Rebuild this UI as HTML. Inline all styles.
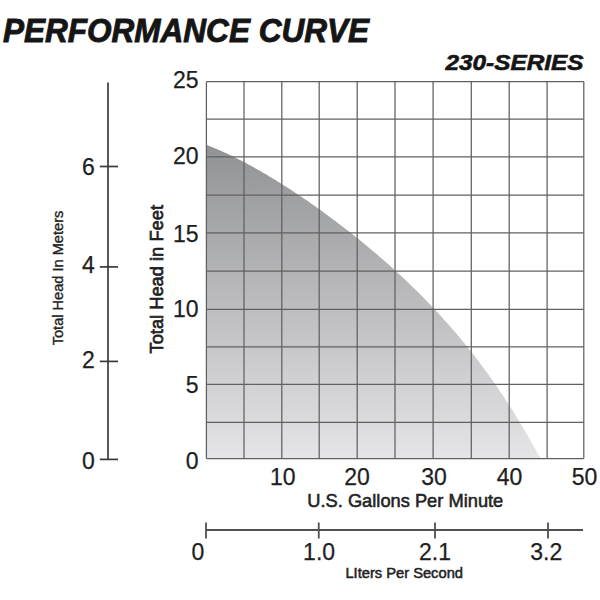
<!DOCTYPE html>
<html><head><meta charset="utf-8"><style>
html,body{margin:0;padding:0;background:#fff;width:600px;height:600px;overflow:hidden}
svg{display:block;font-family:"Liberation Sans",sans-serif}
</style></head><body>
<svg width="600" height="600" viewBox="0 0 600 600">
<defs><linearGradient id="g" x1="0" y1="145" x2="0" y2="459" gradientUnits="userSpaceOnUse">
<stop offset="0" stop-color="#919294"/><stop offset="1" stop-color="#e5e5e7"/></linearGradient></defs>
<rect width="600" height="600" fill="#fff"/>
<polygon points="206.4,144.8 209.4,146.0 212.4,147.2 215.4,148.5 218.4,149.8 221.4,151.1 224.4,152.4 227.4,153.8 230.4,155.3 233.4,156.7 236.4,158.2 239.4,159.7 242.4,161.3 245.4,162.8 248.4,164.5 251.4,166.1 254.4,167.7 257.4,169.4 260.4,171.1 263.4,172.9 266.4,174.6 269.4,176.4 272.4,178.2 275.4,180.1 278.4,181.9 281.4,183.8 284.4,185.7 287.4,187.6 290.4,189.6 293.4,191.5 296.4,193.5 299.4,195.5 302.4,197.5 305.4,199.6 308.4,201.6 311.4,203.7 314.4,205.8 317.4,208.0 320.4,210.1 323.4,212.3 326.4,214.4 329.4,216.7 332.4,218.9 335.4,221.1 338.4,223.4 341.4,225.7 344.4,228.0 347.4,230.3 350.4,232.6 353.4,235.0 356.4,237.4 359.4,239.8 362.4,242.3 365.4,244.7 368.4,247.2 371.4,249.7 374.4,252.2 377.4,254.8 380.4,257.4 383.4,260.0 386.4,262.6 389.4,265.3 392.4,268.0 395.4,270.7 398.4,273.4 401.4,276.2 404.4,279.0 407.4,281.9 410.4,284.8 413.4,287.7 416.4,290.6 419.4,293.6 422.4,296.6 425.4,299.7 428.4,302.8 431.4,305.9 434.4,309.1 437.4,312.3 440.4,315.6 443.4,318.9 446.4,322.2 449.4,325.6 452.4,329.0 455.4,332.5 458.4,336.1 461.4,339.7 464.4,343.3 467.4,347.0 470.4,350.8 473.4,354.6 476.4,358.5 479.4,362.4 482.4,366.4 485.4,370.5 488.4,374.6 491.4,378.8 494.4,383.1 497.4,387.4 500.4,391.9 503.4,396.3 506.4,400.9 509.4,405.5 512.4,410.3 515.4,415.1 518.4,419.9 521.4,424.9 524.4,430.0 527.4,435.1 530.4,440.4 533.4,445.7 536.4,451.1 539.4,456.6 540.5,458.6 206.4,458.6" fill="url(#g)"/>
<g stroke="#606060" stroke-width="1.25"><line x1="206.40" y1="81.70" x2="206.40" y2="458.60"/><line x1="244.00" y1="81.70" x2="244.00" y2="458.60"/><line x1="281.80" y1="81.70" x2="281.80" y2="458.60"/><line x1="319.20" y1="81.70" x2="319.20" y2="458.60"/><line x1="357.20" y1="81.70" x2="357.20" y2="458.60"/><line x1="395.00" y1="81.70" x2="395.00" y2="458.60"/><line x1="433.10" y1="81.70" x2="433.10" y2="458.60"/><line x1="471.30" y1="81.70" x2="471.30" y2="458.60"/><line x1="509.20" y1="81.70" x2="509.20" y2="458.60"/><line x1="547.10" y1="81.70" x2="547.10" y2="458.60"/><line x1="583.80" y1="81.70" x2="583.80" y2="458.60"/><line x1="206.40" y1="81.70" x2="583.80" y2="81.70"/><line x1="206.40" y1="119.10" x2="583.80" y2="119.10"/><line x1="206.40" y1="156.90" x2="583.80" y2="156.90"/><line x1="206.40" y1="195.00" x2="583.80" y2="195.00"/><line x1="206.40" y1="232.80" x2="583.80" y2="232.80"/><line x1="206.40" y1="271.00" x2="583.80" y2="271.00"/><line x1="206.40" y1="309.40" x2="583.80" y2="309.40"/><line x1="206.40" y1="346.90" x2="583.80" y2="346.90"/><line x1="206.40" y1="384.40" x2="583.80" y2="384.40"/><line x1="206.40" y1="422.30" x2="583.80" y2="422.30"/><line x1="206.40" y1="458.60" x2="583.80" y2="458.60"/></g>
<text x="3" y="42.3" font-size="33" font-weight="bold" font-style="italic" fill="#151515" stroke="#151515" stroke-width="0.9" textLength="366" lengthAdjust="spacingAndGlyphs">PERFORMANCE CURVE</text>
<text x="445.5" y="69.7" font-size="21.5" font-weight="bold" font-style="italic" fill="#151515" stroke="#151515" stroke-width="0.6" textLength="138" lengthAdjust="spacingAndGlyphs">230-SERIES</text>
<g font-size="23" fill="#1e1e1e" stroke="#1e1e1e" stroke-width="0.25"><text x="198.6" y="87.7" text-anchor="end">25</text><text x="198.6" y="163.9" text-anchor="end">20</text><text x="198.6" y="241.5" text-anchor="end">15</text><text x="198.6" y="316.9" text-anchor="end">10</text><text x="198.6" y="392.6" text-anchor="end">5</text><text x="198.6" y="469.2" text-anchor="end">0</text><text x="282.7" y="484.7" text-anchor="middle">10</text><text x="357" y="484.7" text-anchor="middle">20</text><text x="434" y="484.7" text-anchor="middle">30</text><text x="509.5" y="484.7" text-anchor="middle">40</text><text x="584.5" y="484.7" text-anchor="middle">50</text><text x="94.8" y="174.6" text-anchor="end">6</text><text x="94.8" y="272.5" text-anchor="end">4</text><text x="94.8" y="367.5" text-anchor="end">2</text><text x="94.8" y="468.7" text-anchor="end">0</text><text x="198" y="560.2" text-anchor="middle">0</text><text x="319.1" y="560.2" text-anchor="middle">1.0</text><text x="435" y="560.2" text-anchor="middle">2.1</text><text x="546.3" y="560.2" text-anchor="middle">3.2</text></g>
<g stroke="#3a3a3a" stroke-width="1.7"><line x1="108" y1="82.4" x2="108" y2="459.4"/><line x1="99.8" y1="166.5" x2="118" y2="166.5"/><line x1="99.8" y1="266.9" x2="118" y2="266.9"/><line x1="99.8" y1="361.4" x2="118" y2="361.4"/><line x1="99.8" y1="459.4" x2="118" y2="459.4"/></g>
<g stroke="#505050" stroke-width="1.8"><line x1="206" y1="530" x2="583" y2="530"/><line x1="206" y1="522.5" x2="206" y2="538.5"/><line x1="318.75" y1="522.5" x2="318.75" y2="538.5"/><line x1="435" y1="522.5" x2="435" y2="538.5"/><line x1="548" y1="522.5" x2="548" y2="538.5"/></g>
<text transform="translate(163,353.5) rotate(-90)" font-size="18.5" fill="#1e1e1e" stroke="#1e1e1e" stroke-width="0.7" textLength="148.5" lengthAdjust="spacingAndGlyphs">Total Head in Feet</text>
<text transform="translate(62.7,345.3) rotate(-90)" font-size="14.7" fill="#222" stroke="#222" stroke-width="0.35" textLength="134.6" lengthAdjust="spacingAndGlyphs">Total Head In Meters</text>
<text x="307.3" y="507" font-size="18.5" fill="#222" stroke="#222" stroke-width="0.55" textLength="196" lengthAdjust="spacingAndGlyphs">U.S. Gallons Per Minute</text>
<text x="345.4" y="578.4" font-size="14.3" fill="#222" stroke="#222" stroke-width="0.5" textLength="117.6" lengthAdjust="spacingAndGlyphs">LIters Per Second</text>
</svg>
</body></html>
